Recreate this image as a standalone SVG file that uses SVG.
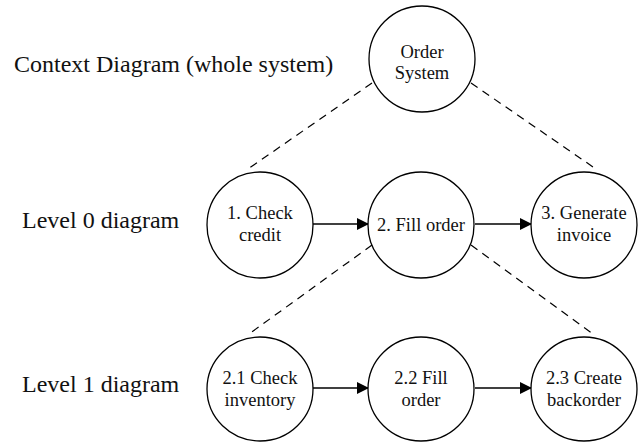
<svg xmlns="http://www.w3.org/2000/svg" width="638" height="442" viewBox="0 0 638 442">
<style>
.node{fill:#fff;stroke:#000;stroke-width:1.3}
.lbl{font-family:"Liberation Serif","DejaVu Serif",serif;font-size:18.5px;fill:#111;text-anchor:middle}
.side{font-family:"Liberation Serif","DejaVu Serif",serif;font-size:24px;fill:#111}
.flow{stroke:#000;stroke-width:1.3;fill:none}
.dash{stroke:#000;stroke-width:1.2;fill:none;stroke-dasharray:8 6}
</style>
<defs>
<marker id="ah" markerWidth="12" markerHeight="12" refX="12" refY="6" orient="auto" markerUnits="userSpaceOnUse">
<path d="M0,0 L12,6 L0,12 Z" fill="#000"/>
</marker>
</defs>
<text class="side" x="14" y="72">Context Diagram (whole system)</text>
<text class="side" x="22" y="228">Level 0 diagram</text>
<text class="side" x="22" y="392">Level 1 diagram</text>
<g id="connectors">
<line class="dash" x1="372" y1="83" x2="248" y2="169"/>
<line class="dash" x1="471" y1="83" x2="596" y2="169"/>
<line class="dash" x1="372" y1="245" x2="249" y2="334"/>
<line class="dash" x1="471" y1="245" x2="593" y2="334"/>
<line class="flow" x1="313" y1="224" x2="369" y2="224" marker-end="url(#ah)"/>
<line class="flow" x1="475" y1="224" x2="532" y2="224" marker-end="url(#ah)"/>
<line class="flow" x1="313" y1="388" x2="369" y2="388" marker-end="url(#ah)"/>
<line class="flow" x1="475" y1="388" x2="532" y2="388" marker-end="url(#ah)"/>
</g>
<g id="order-system">
<ellipse class="node" cx="422" cy="59" rx="53" ry="53"/>
<text class="lbl" x="422" y="58">Order</text>
<text class="lbl" x="422" y="79">System</text>
</g>
<g id="check-credit">
<ellipse class="node" cx="260" cy="225" rx="53" ry="53"/>
<text class="lbl" x="260" y="219">1. Check</text>
<text class="lbl" x="260" y="241">credit</text>
</g>
<g id="fill-order">
<ellipse class="node" cx="421" cy="225" rx="53" ry="53"/>
<text class="lbl" x="421" y="231">2. Fill order</text>
</g>
<g id="generate-invoice">
<ellipse class="node" cx="584" cy="225" rx="53" ry="53"/>
<text class="lbl" x="584" y="219">3. Generate</text>
<text class="lbl" x="584" y="241">invoice</text>
</g>
<g id="check-inventory">
<ellipse class="node" cx="260" cy="389" rx="53" ry="52"/>
<text class="lbl" x="260" y="384">2.1 Check</text>
<text class="lbl" x="260" y="406">inventory</text>
</g>
<g id="fill-order-2">
<ellipse class="node" cx="421" cy="389" rx="53" ry="52"/>
<text class="lbl" x="421" y="384">2.2 Fill</text>
<text class="lbl" x="421" y="406">order</text>
</g>
<g id="create-backorder">
<ellipse class="node" cx="584" cy="389" rx="53" ry="52"/>
<text class="lbl" x="584" y="384">2.3 Create</text>
<text class="lbl" x="584" y="406">backorder</text>
</g>
</svg>
